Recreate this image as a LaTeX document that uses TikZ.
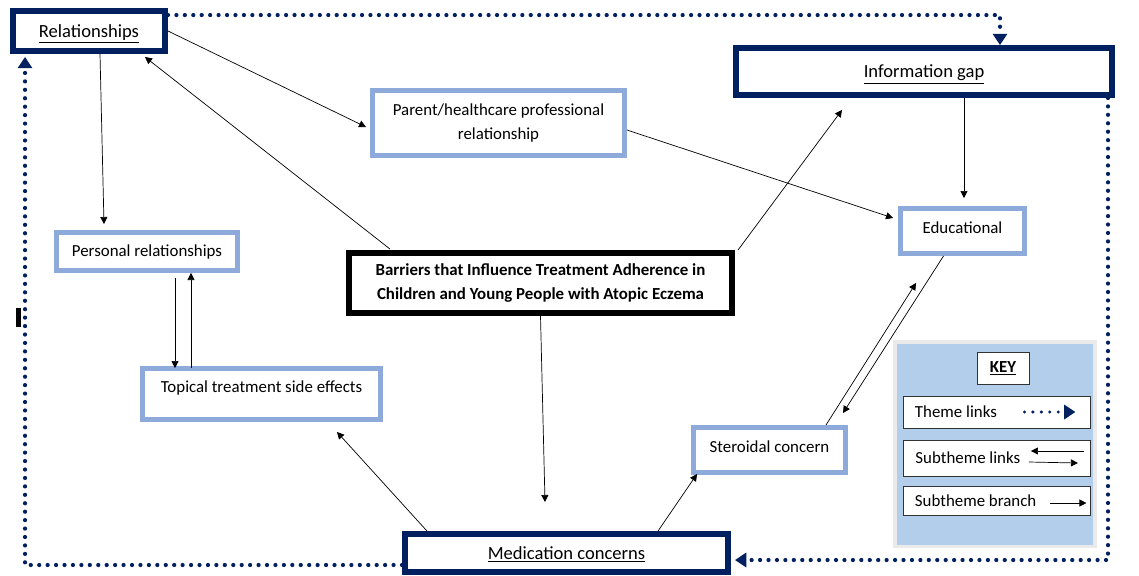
\documentclass[tikz,border=0pt]{standalone}
\usepackage{fontspec}
\setmainfont{Carlito}
\usepackage{tikz}
\usetikzlibrary{arrows.meta, calc, positioning}
\definecolor{navy}{RGB}{0,32,96}
\definecolor{subblue}{RGB}{142,170,219}
\definecolor{keyblue}{RGB}{178,206,234}
\definecolor{keygrey}{RGB}{234,234,234}
\newcommand\diagfont{\fontsize{12pt}{16.4pt}\selectfont}
\newcommand\themefont{\fontsize{13.2pt}{16.4pt}\selectfont}
\tikzset{
  theme/.style={
    rectangle, draw=navy, line width=4.2pt, fill=white, text centered,
    text depth=0pt, font=\themefont
  },
  subtheme/.style={
    rectangle, draw=subblue, line width=3.5pt, fill=white, align=center
  },
  core/.style={
    rectangle, draw=black, line width=4.2pt, fill=white, align=center,
    font=\diagfont\bfseries
  },
  keyrow/.style={
    rectangle, draw=black!80, line width=0.6pt, fill=white,
    inner xsep=0.3cm, text width=4.075cm, align=flush left
  },
  arrow/.style={
    -{Triangle[length=5pt,width=5pt]}, line width=0.5pt, color=black
  },
  themelink/.style={
    navy, line width=3pt, line cap=round, dash pattern=on 0pt off 6pt,
    -{Triangle[length=8pt,width=10pt]}
  }
}

\begin{document}
\begin{tikzpicture}[x=0.025cm, y=-0.025cm, font=\diagfont]
\useasboundingbox (0,0) rectangle (1139,575);

\node[theme, minimum width=3.8cm, minimum height=1cm] (rel) at (89,31) {\underline{Relationships}};
\node[theme, minimum width=9.4cm, minimum height=1.175cm] (info) at (924,71.5) {\underline{Information gap}};
\node[theme, minimum width=8.075cm, minimum height=0.95cm] (med) at (566.5,553) {\underline{Medication concerns}};
\node[core, minimum width=9.575cm, minimum height=1.5cm] (central) at (540.5,283)
  {Barriers that Influence Treatment Adherence in\\Children and Young People with Atopic Eczema};

\node[subtheme, minimum width=6.3cm, minimum height=1.625cm] (parent) at (498.5,123)
  {Parent/healthcare professional\\relationship};
\node[subtheme, minimum width=3.1cm, minimum height=1.125cm, text depth=5.5pt] (educ) at (962.5,231) {Educational};
\node[subtheme, minimum width=4.525cm, minimum height=0.95cm] (personal) at (147,251.5) {Personal relationships};
\node[subtheme, minimum width=5.95cm, minimum height=1.275cm, text depth=10pt] (topical) at (261.5,394) {Topical treatment side effects};
\node[subtheme, minimum width=3.8cm, minimum height=1.125cm, text depth=5pt] (steroid) at (769.5,450) {Steroidal concern};

% key
\node[rectangle, draw=keygrey, line width=2.8pt, fill=keyblue, minimum width=5cm, minimum height=5.11cm] (keypanel) at (995,444.25) {};
\node[rectangle, draw=black!80, line width=0.6pt, fill=white, minimum width=1.3cm, minimum height=0.8cm, font=\diagfont\bfseries] (keytitle) at (1003,368) {\underline{KEY}};
\node[keyrow, minimum height=0.8cm] (keytheme) at (996.5,412) {Theme links};
\node[keyrow, minimum height=0.9cm] (keylinks) at (997,458) {Subtheme links};
\node[keyrow, minimum height=0.725cm] (keybranch) at (996.5,500.5) {Subtheme branch};

\fill (16,308) rectangle (21,327);

\coordinate (medtip) at (545,502);

\draw[themelink] ($(rel.north east)+(0,7)$) -| ($(info.north)+(76,0)$);
\draw[themelink] ($(info.south east)+(-7,0)$) |- ($(med.east)+(4,7)$);
\draw[themelink] ($(med.west)+(0,12)$) -| ($(rel.south west)+(15,3)$);

\draw[arrow] (rel.east) -- ($(parent.west)+(-4,4)$);
\draw[arrow] ($(central.north west)+(44,-1)$) -- ($(rel.south east)+(-23,3)$);
\draw[arrow] ($(rel.south)+(11,0)$) -- ($(personal.north)+(-43,-6)$);
\draw[arrow] ($(personal.south)+(28,5)$) -- ($(personal.south |- topical.north)+(28,2)$);
\draw[arrow] ($(personal.south |- topical.north)+(44,2)$) -- ($(personal.south)+(44,0)$);
\draw[arrow] ($(parent.east)+(0,7)$) -- ($(educ.west)+(-5,-13)$);
\draw[arrow] ($(info.south)+(40,0)$) -- ($(info.south |- educ.north)+(40,-8)$);
\draw[arrow] ($(central.north east)+(3,0)$) -- ($(info.south west)+(109,12)$);
\draw[arrow] (central.south) -- (medtip);
\draw[arrow] ($(med.north west)+(25,0)$) -- ($(topical.south east)+(-46,10)$);
\draw[arrow] ($(med.north east)+(-73,0)$) -- ($(steroid.south west)+(6,-1)$);
\draw[arrow] ($(steroid.north east)+(-22,0)$) -- ($(educ.south west)+(18,27)$);
\draw[arrow] ($(educ.south)+(-19,0)$) -- ($(steroid.north east)+(-5,-12)$);

\draw[themelink, line width=2.4pt] ($(keytheme.east)+(-66,0)$) -- ($(keytheme.east)+(-15,0)$);
\draw[arrow] ($(keylinks.east)+(-7,-7)$) -- ($(keylinks.east)+(-60,-7)$);
\draw[arrow] ($(keylinks.east)+(-62,4)$) -- ($(keylinks.east)+(-13,5)$);
\draw[arrow] ($(keybranch.east)+(-40,2.5)$) -- ($(keybranch.east)+(-4,2.5)$);
\end{tikzpicture}
\end{document}
